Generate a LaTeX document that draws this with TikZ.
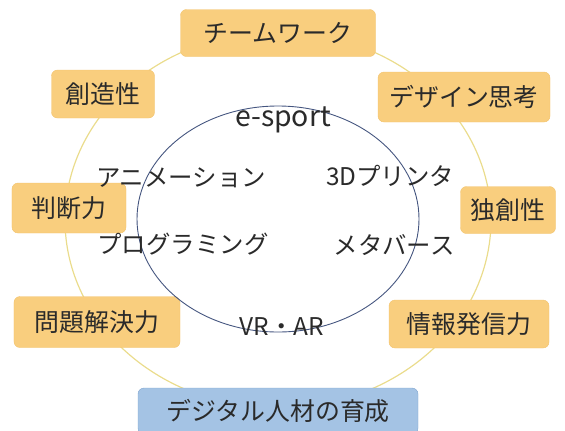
\documentclass[tikz,border=0pt]{standalone}
\usepackage{fontspec}
\setmainfont{Noto Sans CJK JP}
\definecolor{skillfill}{HTML}{F9CE7E}
\definecolor{skilledge}{HTML}{F2C36E}
\definecolor{goalfill}{HTML}{A4C3E4}
\definecolor{goaledge}{HTML}{7FA4CF}
\definecolor{ringyellow}{HTML}{EADC8C}
\definecolor{fieldblue}{HTML}{44557F}
\definecolor{textgray}{HTML}{2A2A2A}

\tikzstyle{skill}=[draw=skilledge, fill=skillfill, rounded corners=6pt, inner sep=0pt, text=textgray, font=\fontsize{25}{29}\selectfont]
\tikzstyle{goal}=[skill, draw=goaledge, fill=goalfill]
\tikzstyle{topic}=[inner sep=0pt, text=textgray, font=\fontsize{24.5}{28}\selectfont]
\tikzstyle{ring}=[draw=ringyellow, line width=1.2pt]
\tikzstyle{field}=[draw=fieldblue, line width=0.9pt]

\begin{document}
\begin{tikzpicture}[x=1bp, y=-1bp]
        \useasboundingbox (0,0) rectangle (565,430);
        \path[ring] (278,220) ellipse [x radius=213, y radius=188];
        \foreach \pos/\name/\label/\w/\h in {{(278,33)/team/チームワーク/195/47}, {(103,94)/create/創造性/103/48},
                {(464,97)/design/デザイン思考/172/50}, {(69,208)/judge/判断力/114/50},
                {(508,210)/orig/独創性/95/47}, {(97,322)/solve/問題解決力/166/51},
                {(469,324)/inform/情報発信力/160/48}}
            \node[skill, minimum width=\w bp, minimum height=\h bp] (\name) at \pos {\label};
        \node[goal, minimum width=280bp, minimum height=46bp] (talent) at (278,411) {デジタル人材の育成};
        \path[field] (278,219) ellipse [x radius=141, y radius=113];
        \node[topic, font=\fontsize{28.5}{32}\selectfont] (esport) at (283,120) {e-sport};
        \foreach \pos/\name/\label in {{(181,178)/anime/アニメーション}, {(390,176)/printer/3Dプリンタ},
                {(183,244)/coding/プログラミング}, {(394,245)/meta/メタバース}, {(282,327)/vrar/VR・AR}}
            \node[topic] (\name) at \pos {\label};
    \end{tikzpicture}
\end{document}
